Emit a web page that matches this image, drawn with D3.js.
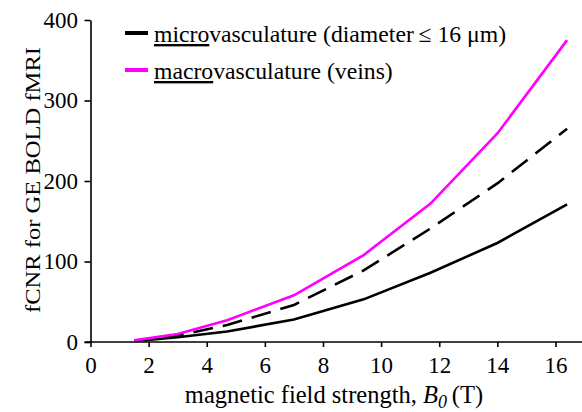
<!DOCTYPE html>
<html>
<head>
<meta charset="utf-8">
<script src="https://cdn.jsdelivr.net/npm/d3@7"></script>
<style>
  body { margin: 0; background: #fff; }
  svg text { font-family: 'Liberation Serif', 'DejaVu Serif', serif; fill: #000; }
  .axis path, .axis line { stroke: #000; stroke-width: 1.6; }
  .axis text { font-size: 23px; }
</style>
</head>
<body>
<svg id="chart" width="582" height="412"></svg>
<script>
// field strengths (T) and fCNR values
var fieldStrength = [1.5, 3, 4.7, 7, 9.4, 11.7, 14, 16.4];
var microValues = [1, 6, 13, 28, 53, 86, 123, 171];
var macroValues = [2, 10, 27, 58, 108, 172, 259, 375];
var totalValues = [1.5, 8, 21, 46, 89, 141, 197, 265];
var xTicks = [0, 2, 4, 6, 8, 10, 12, 14, 16];
var yTicks = [0, 100, 200, 300, 400];

var svg = d3.select('#chart');

var x = d3.scaleLinear().domain([0, 17]).range([90.5, 90.5 + 17 * 29.06]);
var y = d3.scaleLinear().domain([0, 400]).range([342, 20]);

// axes
svg.append('g')
    .attr('class', 'axis')
    .attr('transform', 'translate(0,' + y(0) + ')')
    .call(d3.axisBottom(x).tickValues(xTicks).tickSize(5).tickSizeOuter(0).tickPadding(9.5))
    .call(function(g) { g.select('.domain').attr('d', 'M' + (x(0) - 6) + ',0H' + x.range()[1]); });

svg.append('g')
    .attr('class', 'axis')
    .attr('transform', 'translate(' + x(0) + ',0)')
    .call(d3.axisLeft(y).tickValues(yTicks).tickSize(6).tickSizeOuter(0).tickPadding(6.5));

svg.selectAll('.axis').attr('font-family', null).attr('font-size', null);

// axis titles
var xTitle = svg.append('text')
    .attr('x', 334)
    .attr('y', 403)
    .attr('text-anchor', 'middle')
    .style('font-size', '24.5px');
xTitle.append('tspan').text('magnetic field strength, ');
xTitle.append('tspan').style('font-style', 'italic').text('B');
xTitle.append('tspan').style('font-size', '18px').style('font-style', 'italic').attr('dy', 5).text('0');
xTitle.append('tspan').attr('dy', -5).text('\u2009(T)');

svg.append('text')
    .attr('transform', 'translate(40,180) rotate(-90)')
    .attr('text-anchor', 'middle')
    .attr('textLength', 266)
    .attr('lengthAdjust', 'spacingAndGlyphs')
    .style('font-size', '21px')
    .text('fCNR for GE BOLD fMRI');

// lines
var line = d3.line()
    .x(function(d) { return x(d[0]); })
    .y(function(d) { return y(d[1]); });

function series(values) {
    return fieldStrength.map(function(b, i) { return [b, values[i]]; });
}

svg.append('path')
    .datum(series(microValues))
    .attr('fill', 'none')
    .attr('stroke', '#000')
    .attr('stroke-width', 2.6)
    .attr('d', line);

svg.append('path')
    .datum(series(totalValues))
    .attr('fill', 'none')
    .attr('stroke', '#000')
    .attr('stroke-width', 2.6)
    .attr('stroke-dasharray', '20,10')
    .attr('d', line);

svg.append('path')
    .datum(series(macroValues))
    .attr('fill', 'none')
    .attr('stroke', '#ff00ff')
    .attr('stroke-width', 2.6)
    .attr('d', line);

// legend
var legend = [
    { color: '#000', under: 'micro', rest: 'vasculature (diameter\u2009\u2264 16 \u03bcm)', y: 33 },
    { color: '#ff00ff', under: 'macro', rest: 'vasculature (veins)', y: 70 }
];

var item = svg.selectAll('.legend')
    .data(legend)
    .enter().append('g')
    .attr('class', 'legend')
    .attr('transform', function(d) { return 'translate(0,' + d.y + ')'; });

item.append('line')
    .attr('x1', 125).attr('x2', 148)
    .attr('stroke', function(d) { return d.color; })
    .attr('stroke-width', 4);

var label = item.append('text')
    .attr('x', 154)
    .attr('y', 9)
    .style('font-size', '23.7px');
label.append('tspan')
    .style('text-decoration', 'underline')
    .text(function(d) { return d.under; });
label.append('tspan')
    .text(function(d) { return d.rest; });
</script>
</body>
</html>
